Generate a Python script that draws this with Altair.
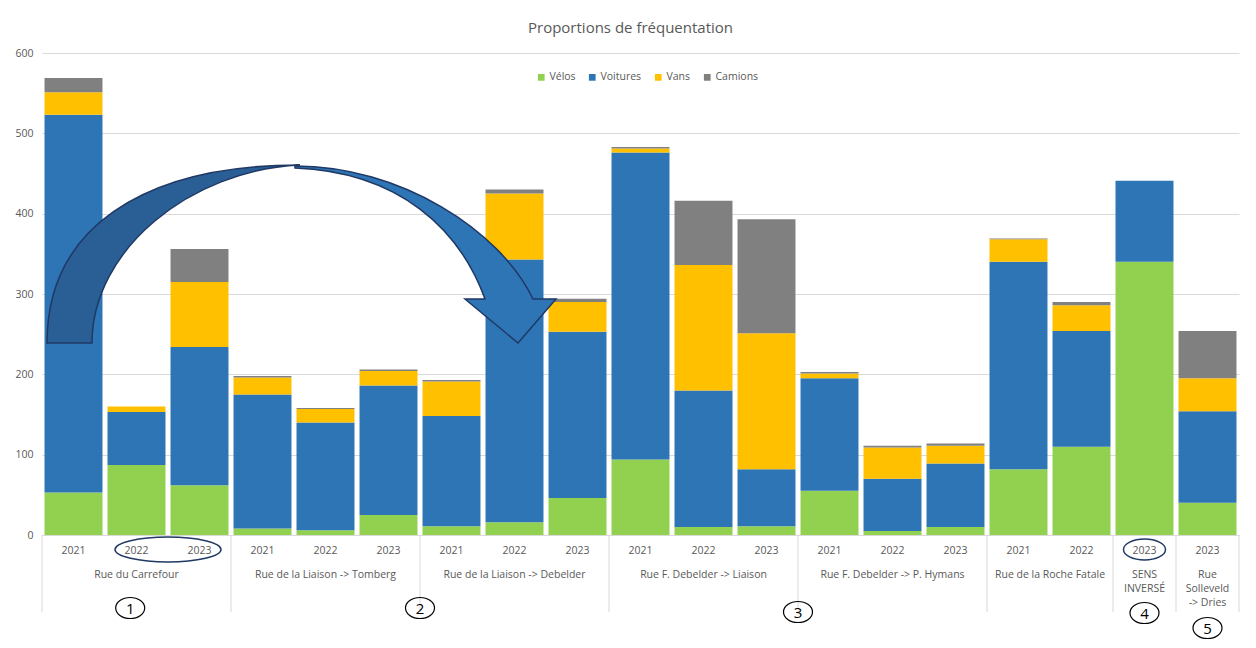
import altair as alt
import pandas as pd

TITLE = "Proportions de fréquentation"
TYPES = ["Vélos", "Voitures", "Vans", "Camions"]
COLORS = ["#92d050", "#2e75b6", "#ffc000", "#808080"]

GROUP_NAMES = [
    "Rue du Carrefour",
    "Rue de la Liaison -> Tomberg",
    "Rue de la Liaison -> Debelder",
    "Rue F. Debelder -> Liaison",
    "Rue F. Debelder -> P. Hymans",
    "Rue de la Roche Fatale",
    "SENS\nINVERSÉ",
    "Rue\nSolleveld\n-> Dries",
]
GROUP_YEARS = [
    ["2021", "2022", "2023"],
    ["2021", "2022", "2023"],
    ["2021", "2022", "2023"],
    ["2021", "2022", "2023"],
    ["2021", "2022", "2023"],
    ["2021", "2022"],
    ["2023"],
    ["2023"],
]

VELOS = [53, 87, 62, 8, 6, 25, 11, 16, 46, 94, 10, 11, 55, 5, 10, 82, 110, 340, 40]
VOITURES = [470, 66, 172, 167, 134, 161, 137, 327, 207, 382, 170, 71, 140, 65, 79, 258, 144, 101, 114]
VANS = [28, 7, 81, 21, 17, 18, 43, 82, 37, 5, 156, 169, 6, 39, 22, 28, 32, 0, 41]
CAMIONS = [18, 0, 41, 2, 1, 2, 2, 5, 4, 2, 80, 142, 2, 2, 3, 1, 4, 0, 59]

# annotations: circled numbers (position in bar units, label) and ellipses
MARK_LABELS = ["1", "2", "3", "4", "5"]
MARK_IDX = [1.4, 6.0, 12.0, 17.5, 18.5]
MARK_PY = [555, 555, 559, 560, 575]
ELLIPSE_IDX = [2.0, 17.5]
ELLIPSE_R = [(53, 12.5), (21, 10.5)]

FONT = "Open Sans"
GREY_TXT = "#595959"
LINE = "#d9d9d9"
NAVY = "#1f3864"

# ---------- build tables ----------
rows = []
keys = []
i = 0
for gname, yrs in zip(GROUP_NAMES, GROUP_YEARS):
    for y in yrs:
        key = f"{i:02d}|{y}"
        keys.append(key)
        vals = [VELOS[i], VOITURES[i], VANS[i], CAMIONS[i]]
        for o, (t, v) in enumerate(zip(TYPES, vals)):
            rows.append({"key": key, "type": t, "value": v, "order": o})
        i += 1
df = pd.DataFrame(rows)
N = len(keys)

starts, centers = [], []
pos = 0
for yrs in GROUP_YEARS:
    starts.append(pos)
    centers.append(pos + len(yrs) / 2)
    pos += len(yrs)
bounds = starts + [pos]
df_groups = pd.DataFrame({"idx": centers, "name": GROUP_NAMES})
df_bounds = pd.DataFrame({"idx": bounds})
df_marks = pd.DataFrame({"idx": MARK_IDX, "py": MARK_PY, "label": MARK_LABELS})

idx_scale = alt.Scale(domain=[0, N], nice=False, zero=False)


def ellipse_path(rx, ry):
    k = 0.5523
    return (f"M {-rx} 0 C {-rx} {-k*ry} {-k*rx} {-ry} 0 {-ry} "
            f"C {k*rx} {-ry} {rx} {-k*ry} {rx} 0 "
            f"C {rx} {k*ry} {k*rx} {ry} 0 {ry} "
            f"C {-k*rx} {ry} {-rx} {k*ry} {-rx} 0 Z")


bars = alt.Chart(df).mark_bar(opacity=1).encode(
    x=alt.X("key:N", sort=keys,
            scale=alt.Scale(paddingInner=0.08, paddingOuter=0.04),
            axis=alt.Axis(title=None, labelExpr="split(datum.label,'|')[1]",
                          labelAngle=0, ticks=False, domainColor=LINE,
                          labelPadding=10, labelColor=GREY_TXT, labelFontSize=10.5,
                          labelFont=FONT, grid=False)),
    y=alt.Y("value:Q", stack="zero",
            scale=alt.Scale(domain=[0, 600], nice=False),
            axis=alt.Axis(title=None, values=list(range(0, 601, 100)), domain=False,
                          ticks=False, gridColor=LINE, labelColor=GREY_TXT,
                          labelFontSize=10.5, labelFont=FONT, labelPadding=9)),
    color=alt.Color("type:N", scale=alt.Scale(domain=TYPES, range=COLORS),
                    legend=alt.Legend(title=None, orient="none", direction="horizontal",
                                      legendX=494, legendY=19, symbolType="square",
                                      symbolSize=45, symbolStrokeWidth=0,
                                      labelFontSize=10.5, labelFont=FONT,
                                      labelColor=GREY_TXT, labelOffset=3,
                                      columnPadding=11)),
    order=alt.Order("order:Q"),
)

seps = alt.Chart(df_bounds).mark_rule(color=LINE, strokeWidth=1).encode(
    x=alt.X("idx:Q", scale=idx_scale, axis=None),
    y=alt.value(482), y2=alt.value(559),
)

glabels = alt.Chart(df_groups).mark_text(
    font=FONT, fontSize=10.5, color=GREY_TXT, baseline="top", align="center",
    lineBreak="\n", lineHeight=14,
).encode(
    x=alt.X("idx:Q", scale=idx_scale, axis=None),
    y=alt.value(517),
    text="name:N",
)

circ = alt.Chart(df_marks).mark_point(
    shape=ellipse_path(14.5, 10.5), size=4, filled=False, stroke="#000000",
    strokeWidth=1.2, opacity=1,
).encode(
    x=alt.X("idx:Q", scale=idx_scale, axis=None),
    y=alt.Y("py:Q", scale=None, axis=None),
)

nums = alt.Chart(df_marks).mark_text(
    font=FONT, fontSize=15, color="#000000", baseline="middle", align="center", dy=1,
).encode(
    x=alt.X("idx:Q", scale=idx_scale, axis=None),
    y=alt.Y("py:Q", scale=None, axis=None),
    text="label:N",
)

ell_layers = []
for ei, (rx, ry) in zip(ELLIPSE_IDX, ELLIPSE_R):
    ell_layers.append(
        alt.Chart(pd.DataFrame({"idx": [ei]})).mark_point(
            shape=ellipse_path(rx, ry), size=4, filled=False, stroke=NAVY,
            strokeWidth=1.5, opacity=1,
        ).encode(
            x=alt.X("idx:Q", scale=idx_scale, axis=None),
            y=alt.value(496.5),
        )
    )

# curved arrow (decoration), outline in plot pixel space
ARROW_BACK = "M 5 290 C 5 177 98 112 258 112 C 148 117 50 197 50 290 Z"
ARROW_FRONT = ("M 253 113 C 358 113 458 177 491 246 L 514 246 L 476 290 "
               "L 423 246 L 443 246 C 418 177 358 119 253 115 Z")
one = pd.DataFrame({"a": [0]})
arrow_back = alt.Chart(one).mark_point(
    shape=ARROW_BACK, size=4, filled=True, fill="#2a5f96", stroke=NAVY,
    strokeWidth=1.5, opacity=1,
).encode(x=alt.value(0), y=alt.value(0))
arrow_front = alt.Chart(one).mark_point(
    shape=ARROW_FRONT, size=4, filled=True, fill="#2e75b6", stroke=NAVY,
    strokeWidth=1.5, opacity=1,
).encode(x=alt.value(0), y=alt.value(0))

chart = alt.layer(
    bars, seps, glabels, circ, nums, *ell_layers, arrow_back, arrow_front
).resolve_scale(x="independent", y="independent").properties(
    width=1197, height=482,
    title=alt.TitleParams(text=TITLE, fontSize=15, font=FONT, fontWeight="normal",
                          color=GREY_TXT, anchor="middle", offset=12, dx=-10),
    padding={"left": 34, "top": 45, "right": 9, "bottom": 105},
    autosize=alt.AutoSizeParams(type="none"),
    background="white",
).configure_view(stroke=None)

chart.save("out.html", embed_options={"renderer": "svg", "actions": False})
